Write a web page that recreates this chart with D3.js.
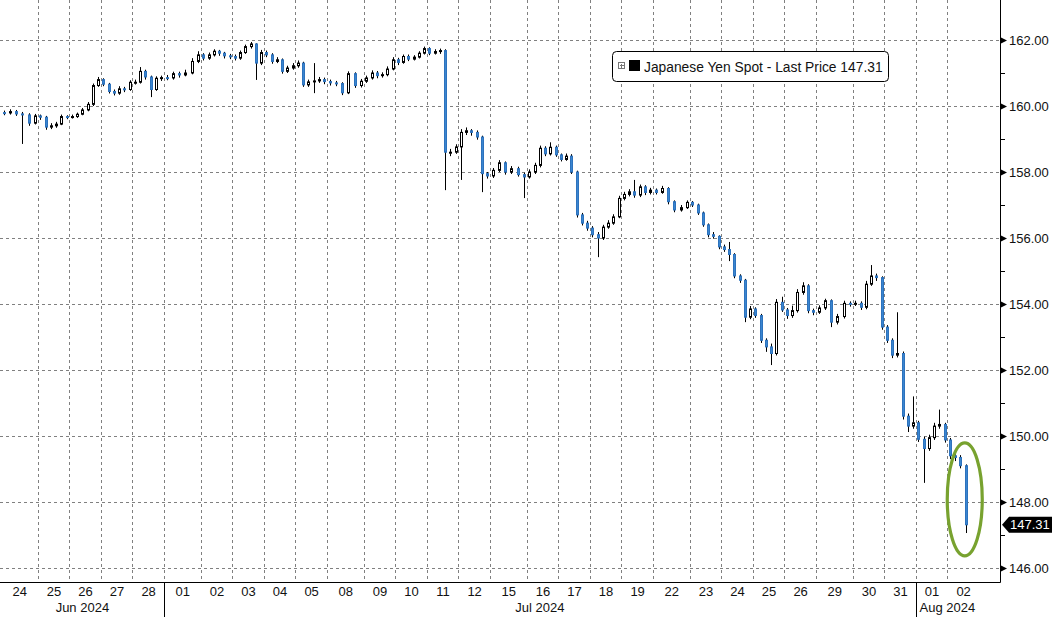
<!DOCTYPE html>
<html><head><meta charset="utf-8">
<script src="https://cdn.jsdelivr.net/npm/d3@7"></script>
<style>html,body{margin:0;padding:0;background:#fff}svg{display:block}</style>
</head><body>
<svg id="chart" width="1052" height="617"></svg>
<script>
// ---------------- DATA ----------------
const dayLabels = ["24","25","26","27","28","01","02","03","04","05","08","09","10","11","12","15","16","17","18","19","22","23","24","25","26","29","30","31","01","02"];
const sessionHours = [28,24,24,24,24, 28,24,24,24,24, 28,24,24,24,24, 28,24,24,24,24, 28,24,24,24,24, 28,24,24,24,24];
const monthLabels = ["Jun 2024","Jul 2024","Aug 2024"];
const monthFirstDay = [0,5,28];
const monthLastDay = [4,27,29];
const candlesPerDay = 6;
const firstOpen = 159.80;
const closes = [
159.79,159.83,159.76,159.73,159.48,159.70,159.66,159.36,159.40,159.45,
159.68,159.66,159.68,159.75,159.88,160.05,160.62,160.80,160.66,160.44,
160.39,160.52,160.50,160.72,160.72,161.05,160.88,160.50,160.84,160.86,
160.85,160.98,160.94,161.00,161.35,161.55,161.45,161.55,161.66,161.60,
161.52,161.50,161.45,161.62,161.80,161.88,161.30,161.62,161.55,161.35,
161.40,161.05,161.15,161.22,161.30,160.64,160.73,160.76,160.80,160.74,
160.70,160.68,160.40,160.98,160.62,160.75,160.85,161.00,160.92,160.95,
161.12,161.40,161.32,161.50,161.42,161.48,161.60,161.74,161.60,161.65,
161.68,158.60,158.60,158.76,159.20,159.25,159.20,159.06,157.95,157.88,
158.05,158.28,158.00,158.10,157.92,157.85,158.00,158.20,158.72,158.55,
158.75,158.52,158.38,158.48,158.00,156.70,156.45,156.30,156.10,156.00,
156.33,156.45,156.64,157.20,157.32,157.40,157.30,157.55,157.38,157.45,
157.38,157.50,157.10,156.85,156.92,157.08,157.00,156.76,156.40,156.10,
156.05,155.73,155.65,155.50,154.85,154.72,153.60,153.85,153.65,152.90,
152.70,152.50,154.05,153.82,153.65,153.80,154.35,154.55,153.80,153.75,
153.88,154.10,153.45,153.62,154.02,154.00,154.02,153.90,154.60,154.85,
154.80,153.30,152.90,152.45,152.50,150.60,150.30,150.40,149.90,149.62,
149.95,150.30,150.35,149.88,149.40,149.35,149.10,147.31];
const highs = [
159.86,159.90,159.88,159.82,159.78,159.76,159.74,159.70,159.48,159.52,
159.74,159.72,159.74,159.80,159.94,160.12,160.68,160.88,160.84,160.70,
160.50,160.60,160.58,160.78,160.80,161.18,161.10,160.92,160.90,160.92,
160.94,161.04,161.04,161.10,161.45,161.66,161.60,161.62,161.72,161.70,
161.64,161.58,161.56,161.68,161.86,161.94,161.90,161.70,161.68,161.60,
161.48,161.44,161.22,161.30,161.38,161.34,160.80,161.30,160.88,160.86,
160.80,160.76,160.72,161.05,161.02,160.82,160.92,161.08,161.06,161.02,
161.20,161.48,161.46,161.56,161.56,161.54,161.66,161.80,161.78,161.72,
161.74,161.72,158.70,158.84,159.30,159.35,159.30,159.26,159.10,158.00,
158.12,158.36,158.32,158.18,158.16,157.98,158.08,158.28,158.80,158.78,
158.90,158.80,158.56,158.56,158.54,158.04,156.76,156.52,156.36,156.18,
156.40,156.54,156.72,157.28,157.40,157.48,157.76,157.62,157.60,157.52,
157.50,157.58,157.54,157.14,157.00,157.14,157.12,157.04,156.80,156.44,
156.18,156.08,155.80,155.88,155.54,154.90,154.76,153.94,153.90,153.70,
152.96,152.80,154.15,154.22,153.88,153.95,154.45,154.66,154.60,153.86,
153.96,154.16,154.14,153.70,154.10,154.08,154.10,154.08,154.70,155.18,
154.92,154.84,153.36,152.96,153.75,152.56,150.68,151.20,150.46,149.98,
150.04,150.40,150.80,150.40,149.94,149.46,149.42,149.14];
const lows = [
159.72,159.74,159.70,158.85,159.40,159.44,159.58,159.28,159.30,159.34,
159.42,159.60,159.62,159.64,159.72,159.84,160.00,160.58,160.60,160.38,
160.32,160.34,160.42,160.46,160.65,160.68,160.80,160.27,160.46,160.76,
160.78,160.80,160.86,160.90,160.96,161.30,161.38,161.40,161.50,161.52,
161.44,161.42,161.38,161.40,161.58,161.74,160.79,161.24,161.48,161.28,
161.30,160.98,161.00,161.10,161.16,160.58,160.58,160.39,160.70,160.66,
160.62,160.60,160.33,160.36,160.55,160.56,160.70,160.80,160.84,160.86,
160.90,161.08,161.24,161.28,161.36,161.38,161.44,161.56,161.54,161.56,
161.58,157.45,158.48,158.55,157.76,159.12,159.10,158.98,157.39,157.80,
157.82,158.00,157.92,157.94,157.86,157.21,157.80,157.94,158.14,158.48,
158.50,158.46,158.32,158.34,157.94,156.62,156.38,156.22,156.02,155.42,
155.94,156.28,156.40,156.60,157.14,157.26,157.22,157.24,157.30,157.32,
157.32,157.34,157.02,156.78,156.80,156.88,156.94,156.70,156.34,156.02,
155.98,155.66,155.58,155.30,154.78,154.64,153.45,153.54,153.58,152.82,
152.55,152.15,152.44,153.76,153.55,153.58,153.74,154.28,153.72,153.66,
153.70,153.82,153.30,153.38,153.56,153.92,153.94,153.82,153.84,154.55,
154.70,153.22,152.82,152.36,152.38,150.50,150.12,150.22,149.82,148.58,
149.55,149.88,150.22,149.80,149.30,149.24,149.02,147.06];
const yTicks = [146,148,150,152,154,156,158,160,162];
const yMinorTicks = [147,149,151,153,155,157,159,161];
const seriesName = "Japanese Yen Spot - Last Price";
const lastPrice = 147.31;
const highlightCenter = 148.08;   // annotation ellipse centre (value)
const highlightHalfSpan = 1.71;   // annotation ellipse half height (value units)

// ---------------- LAYOUT ----------------
const FONT = "'Liberation Sans', Arial, sans-serif";
const plotRight = 1000, axisY = 582, H = 617;
const upFill = "#ffffff", downFill = "#3a86d0", downStroke = "#2d72bd";
const gridColor = "#808080";

const dayStart = [0, ...d3.cumsum(sessionHours)];
const totalHours = dayStart[dayStart.length - 1];
const x = d3.scaleLinear().domain([0, totalHours]).range([0.9, 978.9]);
const y = d3.scaleLinear().domain([146, 162]).range([568, 40]);

const candles = closes.map((c, k) => {
  const d = Math.floor(k / candlesPerDay), j = k % candlesPerDay;
  return {
    hour: dayStart[d] + (j + 0.5) * sessionHours[d] / candlesPerDay,
    open: k === 0 ? firstOpen : closes[k - 1],
    close: c, high: highs[k], low: lows[k]
  };
});

const svg = d3.select("#chart");
svg.append("rect").attr("width", 1052).attr("height", H).attr("fill", "#fff");

// grid
const grid = svg.append("g").attr("stroke", gridColor).attr("stroke-width", 1).attr("stroke-dasharray", "3,3");
grid.selectAll("line.h").data(yTicks).join("line").attr("class", "h")
  .attr("x1", 0).attr("x2", plotRight)
  .attr("y1", d => Math.round(y(d)) + 0.5).attr("y2", d => Math.round(y(d)) + 0.5);
grid.selectAll("line.v").data(d3.range(1, sessionHours.length)).join("line").attr("class", "v")
  .attr("x1", i => Math.round(x(dayStart[i])) + 0.5).attr("x2", i => Math.round(x(dayStart[i])) + 0.5)
  .attr("y1", 0).attr("y2", axisY);

// candles
const cg = svg.append("g");
cg.selectAll("line.wick").data(candles).join("line").attr("class", "wick")
  .attr("x1", d => Math.round(x(d.hour)) + 0.5).attr("x2", d => Math.round(x(d.hour)) + 0.5)
  .attr("y1", d => y(d.high)).attr("y2", d => y(d.low))
  .attr("stroke", "#000").attr("stroke-width", 1);
cg.selectAll("rect.body").data(candles).join("rect").attr("class", "body")
  .attr("x", d => Math.round(x(d.hour)) - 0.5)
  .attr("width", 2)
  .attr("y", d => y(Math.max(d.open, d.close)))
  .attr("height", d => Math.max(1, Math.abs(y(d.open) - y(d.close))))
  .attr("fill", d => d.close >= d.open ? upFill : downFill)
  .attr("stroke", d => d.close >= d.open ? "#000" : downStroke)
  .attr("stroke-width", 1);

// axes lines
svg.append("line").attr("x1", 0).attr("x2", plotRight + 0.5).attr("y1", axisY + 0.5).attr("y2", axisY + 0.5).attr("stroke", "#000");
svg.append("line").attr("x1", plotRight + 0.5).attr("x2", plotRight + 0.5).attr("y1", 0).attr("y2", axisY + 0.5).attr("stroke", "#000");

// bottom axis (days)
const dayCenters = d3.range(sessionHours.length).map(i => dayStart[i] + sessionHours[i] / 2);
const xAxis = d3.axisBottom(x).tickValues(dayCenters).tickFormat((d, i) => dayLabels[i]).tickSize(0).tickPadding(5);
svg.append("g").attr("transform", `translate(0,${axisY})`).call(xAxis)
  .call(g => g.select(".domain").remove())
  .call(g => g.selectAll("text").attr("font-family", FONT).attr("font-size", 13).attr("fill", "#111"));

// month labels and separators
svg.append("g").selectAll("text").data(monthLabels).join("text")
  .attr("x", (m, i) => x((dayStart[monthFirstDay[i]] + dayStart[monthLastDay[i] + 1]) / 2))
  .attr("y", 612).attr("text-anchor", "middle")
  .attr("font-family", FONT).attr("font-size", 13).attr("fill", "#111").text(m => m);
svg.append("g").selectAll("line").data(monthFirstDay.slice(1)).join("line")
  .attr("x1", i => Math.round(x(dayStart[i])) + 0.5).attr("x2", i => Math.round(x(dayStart[i])) + 0.5)
  .attr("y1", axisY).attr("y2", H).attr("stroke", "#000");

// right axis
const yAxis = d3.axisRight(y).tickValues(yTicks).tickFormat(d3.format(".2f")).tickSize(0).tickPadding(9);
svg.append("g").attr("transform", `translate(${plotRight},0)`).call(yAxis)
  .call(g => g.select(".domain").remove())
  .call(g => g.selectAll("text").attr("font-family", FONT).attr("font-size", 13).attr("fill", "#111"));
svg.append("g").selectAll("path").data(yTicks).join("path")
  .attr("d", d => { const yy = Math.round(y(d)) + 0.5; return `M${plotRight + 1},${yy - 3}L${plotRight + 7},${yy}L${plotRight + 1},${yy + 3}Z`; })
  .attr("fill", "#000");
svg.append("g").selectAll("line").data(yMinorTicks).join("line")
  .attr("x1", plotRight).attr("x2", plotRight + 5)
  .attr("y1", d => Math.round(y(d)) + 0.5).attr("y2", d => Math.round(y(d)) + 0.5)
  .attr("stroke", "#000");

// last price tag
const ly = y(lastPrice);
svg.append("path")
  .attr("d", `M${plotRight + 2},${ly}L${plotRight + 9},${ly - 8}L1052,${ly - 8}L1052,${ly + 8}L${plotRight + 9},${ly + 8}Z`)
  .attr("fill", "#000");
svg.append("text").attr("x", plotRight + 10).attr("y", ly).attr("dy", "0.36em")
  .attr("font-family", FONT).attr("font-size", 13).attr("fill", "#fff").text(d3.format(".2f")(lastPrice));

// highlight ellipse
const last = candles[candles.length - 1];
svg.append("ellipse")
  .attr("cx", x(last.hour) - 1).attr("cy", y(highlightCenter))
  .attr("rx", 17.5).attr("ry", (y(highlightCenter - highlightHalfSpan) - y(highlightCenter + highlightHalfSpan)) / 2)
  .attr("fill", "none").attr("stroke", "#78a22f").attr("stroke-width", 3.2);

// legend
const lg = svg.append("g").attr("transform", "translate(612,51)");
lg.append("rect").attr("x", 0.5).attr("y", 0.5).attr("width", 276).attr("height", 30).attr("rx", 4)
  .attr("fill", "#fff").attr("stroke", "#000");
lg.append("rect").attr("x", 6.5).attr("y", 11.5).attr("width", 6).attr("height", 6).attr("fill", "none").attr("stroke", "#777");
lg.append("path").attr("d", "M8,14.5H12M9.5,13V17").attr("stroke", "#777");
lg.append("rect").attr("x", 17).attr("y", 9).attr("width", 11).attr("height", 11).attr("fill", "#000");
lg.append("text").attr("x", 32).attr("y", 20.5)
  .attr("font-family", FONT).attr("font-size", 13.8).attr("fill", "#111")
  .text(`${seriesName} ${d3.format(".2f")(lastPrice)}`);
</script>
</body></html>
